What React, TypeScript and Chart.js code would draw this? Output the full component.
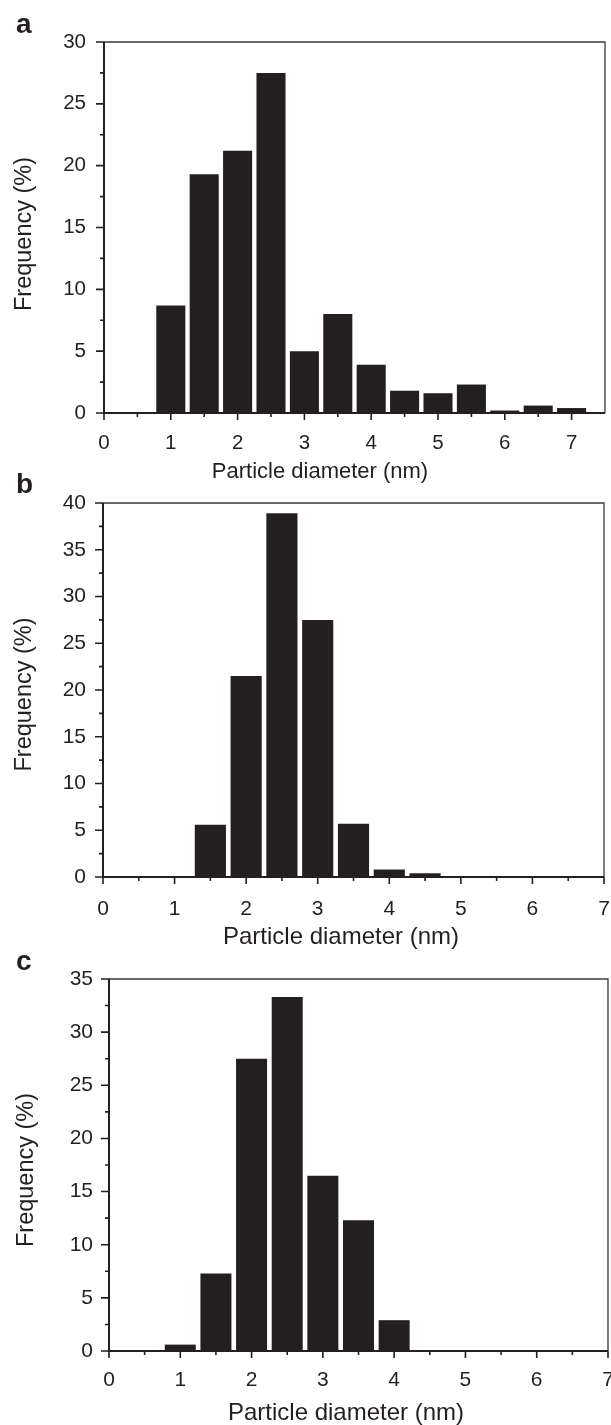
import React, { useEffect, useRef } from 'react';
import { Chart, registerables } from 'chart.js';

Chart.register(...registerables);

// ---------- data ----------
const xTitle = 'Particle diameter (nm)';
const yTitle = 'Frequency (%)';
const panelLetters = ['a', 'b', 'c'];

// panel a
const diameterA = [1, 1.5, 2, 2.5, 3, 3.5, 4, 4.5, 5, 5.5, 6, 6.5, 7];
const frequencyA = [8.7, 19.3, 21.2, 27.5, 5.0, 8.0, 3.9, 1.8, 1.6, 2.3, 0.2, 0.6, 0.4];
const xTicksA = [0, 1, 2, 3, 4, 5, 6, 7];
const yTicksA = [0, 5, 10, 15, 20, 25, 30];
const xMaxA = 7.5;

// panel b
const diameterB = [1.5, 2, 2.5, 3, 3.5, 4, 4.5];
const frequencyB = [5.6, 21.5, 38.9, 27.5, 5.7, 0.8, 0.4];
const xTicksB = [0, 1, 2, 3, 4, 5, 6, 7];
const yTicksB = [0, 5, 10, 15, 20, 25, 30, 35, 40];
const xMaxB = 7;

// panel c
const diameterC = [1, 1.5, 2, 2.5, 3, 3.5, 4];
const frequencyC = [0.6, 7.3, 27.5, 33.3, 16.5, 12.3, 2.9];
const xTicksC = [0, 1, 2, 3, 4, 5, 6, 7];
const yTicksC = [0, 5, 10, 15, 20, 25, 30, 35];
const xMaxC = 7;

// ---------- styling / layout ----------
const INK = '#231f20';
const FONT = "'Liberation Sans', Arial, Helvetica, sans-serif";

type Layout = {
  top: number; height: number;
  yWidth: number; padRight: number; areaTop: number; xHeight: number;
  yPad: number; xPad: number;
  tickSize: number;
  letterY: number; titleX: number; titleY: number; titleSize: number;
  yTitleX: number; yTitleY: number; yTitleSize: number;
};

type Spec = {
  letter: string; xs: number[]; ys: number[]; xTicks: number[]; yTicks: number[]; xMax: number; layout: Layout;
};

const specs: Spec[] = [
  {
    letter: panelLetters[0], xs: diameterA, ys: frequencyA, xTicks: xTicksA, yTicks: yTicksA, xMax: xMaxA,
    layout: { top: 0, height: 490, yWidth: 104, padRight: 6, areaTop: 42, xHeight: 77, yPad: 18, xPad: 18,
      tickSize: 20.5, letterY: 33, titleX: 320, titleY: 472, titleSize: 22,
      yTitleX: 25, yTitleY: 234, yTitleSize: 23.5 },
  },
  {
    letter: panelLetters[1], xs: diameterB, ys: frequencyB, xTicks: xTicksB, yTicks: yTicksB, xMax: xMaxB,
    layout: { top: 460, height: 490, yWidth: 103, padRight: 7, areaTop: 43, xHeight: 73, yPad: 17, xPad: 20,
      tickSize: 21, letterY: 33, titleX: 341, titleY: 477, titleSize: 24,
      yTitleX: 25, yTitleY: 234.5, yTitleSize: 23.5 },
  },
  {
    letter: panelLetters[2], xs: diameterC, ys: frequencyC, xTicks: xTicksC, yTicks: yTicksC, xMax: xMaxC,
    layout: { top: 940, height: 485, yWidth: 109, padRight: 3, areaTop: 39, xHeight: 74, yPad: 16, xPad: 17,
      tickSize: 21, letterY: 30, titleX: 346, titleY: 473, titleSize: 24,
      yTitleX: 26.5, yTitleY: 230, yTitleSize: 23.5 },
  },
];

const decorPlugin = {
  id: 'decor',
  afterDatasetsDraw(chart: any, _args: any, opts: any) {
    const { ctx, chartArea: a, scales } = chart;
    const x = scales.x;
    const y = scales.y;
    ctx.save();
    // top / right frame
    ctx.strokeStyle = '#3b3839';
    ctx.lineWidth = 1.3;
    ctx.beginPath();
    ctx.moveTo(a.left, a.top);
    ctx.lineTo(a.right, a.top);
    ctx.lineTo(a.right, a.bottom);
    ctx.stroke();
    // main axes
    ctx.strokeStyle = INK;
    ctx.lineWidth = 2;
    ctx.beginPath();
    ctx.moveTo(a.left, a.top);
    ctx.lineTo(a.left, a.bottom);
    ctx.lineTo(a.right, a.bottom);
    ctx.stroke();
    // major / minor ticks
    ctx.lineWidth = 1.6;
    const xv = x.ticks.map((t: any) => t.value);
    const yv = y.ticks.map((t: any) => t.value);
    ctx.beginPath();
    xv.forEach((v: number, i: number) => {
      const px = x.getPixelForValue(v);
      ctx.moveTo(px, a.bottom);
      ctx.lineTo(px, a.bottom + 7);
      if (i < xv.length - 1) {
        const mx = x.getPixelForValue((v + xv[i + 1]) / 2);
        ctx.moveTo(mx, a.bottom);
        ctx.lineTo(mx, a.bottom + 4);
      }
    });
    yv.forEach((v: number, i: number) => {
      const py = y.getPixelForValue(v);
      ctx.moveTo(a.left - 8, py);
      ctx.lineTo(a.left, py);
      if (i < yv.length - 1) {
        const my = y.getPixelForValue((v + yv[i + 1]) / 2);
        ctx.moveTo(a.left - 4, my);
        ctx.lineTo(a.left, my);
      }
    });
    ctx.stroke();
    // panel letter
    ctx.fillStyle = INK;
    ctx.font = `bold 28px ${FONT}`;
    ctx.textAlign = 'left';
    ctx.textBaseline = 'alphabetic';
    ctx.fillText(opts.letter, 16, opts.letterY);
    // x axis title
    ctx.font = `${opts.titleSize}px ${FONT}`;
    ctx.textAlign = 'center';
    ctx.textBaseline = 'middle';
    ctx.fillText(opts.title, opts.titleX, opts.titleY);
    // y axis title (rotated)
    ctx.save();
    ctx.translate(opts.yTitleX, opts.yTitleY);
    ctx.rotate(-Math.PI / 2);
    ctx.font = `${opts.yTitleSize}px ${FONT}`;
    ctx.textAlign = 'center';
    ctx.textBaseline = 'middle';
    ctx.fillText(opts.yTitle, 0, 0);
    ctx.restore();
    ctx.restore();
  },
};

function Panel({ spec }: { spec: Spec }) {
  const ref = useRef<HTMLCanvasElement>(null);
  useEffect(() => {
    const L = spec.layout;
    const chart = new Chart(ref.current as HTMLCanvasElement, {
      type: 'bar',
      data: {
        datasets: [
          {
            label: yTitle,
            data: spec.xs.map((v, i) => ({ x: v, y: spec.ys[i] })),
            backgroundColor: INK,
            borderWidth: 0,
            categoryPercentage: 1,
            barPercentage: 0.87,
          } as any,
        ],
      },
      options: {
        animation: false,
        responsive: false,
        devicePixelRatio: 1,
        layout: { autoPadding: false, padding: { top: L.areaTop, right: L.padRight, bottom: 0, left: 0 } },
        plugins: {
          legend: { display: false },
          tooltip: { enabled: false },
          title: { display: false },
          decor: {
            letter: spec.letter, letterY: L.letterY, title: xTitle,
            titleX: L.titleX, titleY: L.titleY, titleSize: L.titleSize,
            yTitle, yTitleX: L.yTitleX, yTitleY: L.yTitleY, yTitleSize: L.yTitleSize,
          },
        } as any,
        scales: {
          x: {
            type: 'linear',
            min: 0,
            max: spec.xMax,
            offset: false,
            grid: { display: false, drawTicks: false, offset: false },
            border: { display: false },
            afterBuildTicks: (s: any) => { s.ticks = spec.xTicks.map((v) => ({ value: v })); },
            afterFit: (s: any) => { s.height = L.xHeight; s.paddingLeft = 0; s.paddingRight = 0; },
            ticks: {
              font: { family: FONT, size: L.tickSize },
              color: INK,
              padding: L.xPad,
              maxRotation: 0,
              autoSkip: false,
            },
          },
          y: {
            type: 'linear',
            min: 0,
            max: spec.yTicks[spec.yTicks.length - 1],
            grid: { display: false, drawTicks: false },
            border: { display: false },
            afterBuildTicks: (s: any) => { s.ticks = spec.yTicks.map((v) => ({ value: v })); },
            afterFit: (s: any) => { s.width = L.yWidth; s.paddingTop = 0; s.paddingBottom = 0; },
            ticks: {
              font: { family: FONT, size: L.tickSize },
              color: INK,
              padding: L.yPad,
            },
          },
        } as any,
      },
      plugins: [decorPlugin as any],
    });
    return () => chart.destroy();
  }, [spec]);

  const L = spec.layout;
  return (
    <canvas
      ref={ref}
      width={611}
      height={L.height}
      style={{ position: 'absolute', left: 0, top: L.top, width: 611, height: L.height, display: 'block' }}
    />
  );
}

export default function App() {
  return (
    <div style={{ position: 'absolute', left: 0, top: 0, width: 611, height: 1425, background: '#ffffff', overflow: 'hidden' }}>
      {specs.map((s) => (
        <Panel key={s.letter} spec={s} />
      ))}
    </div>
  );
}
